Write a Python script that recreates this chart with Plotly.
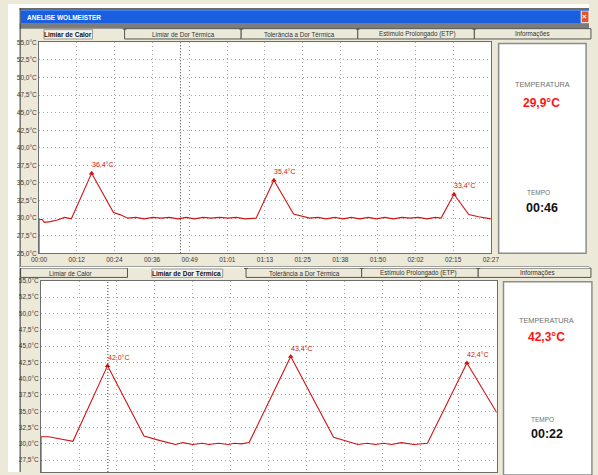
import plotly.graph_objects as go

W, H = 598, 475

# ---------------- data ----------------
tab_names = ["Limiar de Calor", "Limiar de Dor Térmica", "Tolerância a Dor Térmica",
             "Estímulo Prolongado (ETP)", "Informações"]
window_title = "ANELISE WOLMEISTER"

y_tick_values = [25.0, 27.5, 30.0, 32.5, 35.0, 37.5, 40.0, 42.5, 45.0, 47.5, 50.0, 52.5, 55.0]
y_tick_labels = ["25,0°C", "27,5°C", "30,0°C", "32,5°C", "35,0°C", "37,5°C", "40,0°C",
                 "42,5°C", "45,0°C", "47,5°C", "50,0°C", "52,5°C", "55,0°C"]

x_tick_labels_1 = ["00:00", "00:12", "00:24", "00:36", "00:49", "01:01", "01:13",
                   "01:25", "01:38", "01:50", "02:02", "02:15", "02:27"]
x_tick_values_1 = [0, 12.25, 24.5, 36.75, 49, 61.25, 73.5, 85.75, 98, 110.25, 122.5, 134.75, 147]
x_tick_values_2 = [0, 12.5, 25, 37.5, 50, 62.5, 75, 87.5, 100, 112.5, 125, 137.5, 150]

# chart 1 : Limiar de Calor  (time in s, temperature in °C)
time1 = [0, 0, 1.0, 1.7, 3.6, 5.7, 8.3, 10.5, 17.1, 24.2, 26.3, 28.9, 31.5, 34.2, 37.0,
         39.7, 42.4, 45.2, 47.9, 50.6, 53.3, 56.0, 58.7, 61.5, 64.2, 67.0, 70.6, 76.4,
         82.8, 85.5, 88.0, 90.7, 93.4, 96.2, 98.9, 101.6, 104.3, 107.1, 109.8, 112.5,
         115.3, 118.0, 120.7, 123.4, 126.2, 128.9, 130.8, 135.0, 139.8, 143.0, 146.1, 147.0]
temp1 = [25.0, 29.8, 29.8, 29.4, 29.5, 29.7, 30.1, 29.9, 36.4, 30.8, 30.5, 30.0, 30.1, 29.9, 30.1,
         30.0, 30.1, 29.9, 30.1, 29.9, 30.1, 30.0, 30.1, 30.0, 30.1, 29.9, 30.0, 35.4,
         30.6, 30.3, 30.0, 30.1, 29.9, 30.1, 29.9, 30.1, 29.9, 30.1, 29.9, 30.1,
         29.9, 30.1, 30.0, 30.1, 29.9, 30.1, 30.0, 33.4, 30.5, 30.2, 30.0, 29.9]
peak_time1 = [17.1, 76.4, 135.0]
peak_temp1 = [36.4, 35.4, 33.4]
peak_label1 = ["36,4°C", "35,4°C", "33,4°C"]
cursor_time1 = 46
info_temp1 = "29,9°C"
info_time1 = "00:46"

# chart 2 : Limiar de Dor Térmica
time2 = [0, 0, 2.5, 10.5, 21.9, 33.9, 39.2, 44.3, 46.7, 49.9, 53.1, 55.2, 58.4, 61.6,
         63.7, 65.9, 68.5, 82.2, 96.3, 100.0, 104.3, 107.4, 110.1, 112.8, 115.4, 118.6,
         122.9, 127.2, 140.2, 150.0]
temp2 = [25.0, 31.1, 31.1, 30.4, 42.0, 31.2, 30.5, 29.9, 30.2, 29.9, 30.1, 29.9, 30.1, 29.9,
         30.1, 30.0, 30.2, 43.4, 31.0, 30.5, 29.9, 30.1, 29.9, 30.1, 29.9, 30.2,
         29.9, 30.1, 42.4, 34.8]
peak_time2 = [21.9, 82.2, 140.2]
peak_temp2 = [42.0, 43.4, 42.4]
peak_label2 = ["42,0°C", "43,4°C", "42,4°C"]
cursor_time2 = 22
info_temp2 = "42,3°C"
info_time2 = "00:22"

# ---------------- helpers (pixel -> paper) ----------------
def X(p):
    return p / W

def Y(p):
    return 1 - p / H

BEIGE = "#ECE9D8"
RED = "#D01414"
TICKFONT = dict(family="Liberation Sans Narrow, Liberation Sans, Arial, sans-serif", size=6.5, color="#3A3A3A")
UIFONT = "Liberation Sans, Arial, sans-serif"

shapes = []
annotations = []

def rect(x0, y0, x1, y1, fill=None, line=None, lw=1, layer="below"):
    shapes.append(dict(type="rect", xref="paper", yref="paper",
                       x0=X(x0), x1=X(x1), y0=Y(y1), y1=Y(y0),
                       fillcolor=fill if fill else "rgba(0,0,0,0)",
                       line=dict(color=line if line else "rgba(0,0,0,0)", width=lw if line else 0),
                       layer=layer))

def hline(x0, x1, y, color, lw=1, layer="above"):
    shapes.append(dict(type="line", xref="paper", yref="paper", x0=X(x0), x1=X(x1),
                       y0=Y(y), y1=Y(y), line=dict(color=color, width=lw), layer=layer))

def vline(x, y0, y1, color, lw=1, layer="above"):
    shapes.append(dict(type="line", xref="paper", yref="paper", x0=X(x), x1=X(x),
                       y0=Y(y0), y1=Y(y1), line=dict(color=color, width=lw), layer=layer))

def text(x, y, s, size, color, bold=False, xanchor="center"):
    annotations.append(dict(x=X(x), y=Y(y), xref="paper", yref="paper", text=f"<b>{s}</b>" if bold else s,
                            showarrow=False, xanchor=xanchor, yanchor="middle",
                            font=dict(family=UIFONT, size=size, color=color)))

# window chrome
rect(0, 0, 12, H, fill="#FFFFFF")
rect(0, 0, W, 4, fill="#FFFFFF")
rect(12, 4, W, 6, fill="#6A6A6A")
rect(13, 6, W, 20, fill="#1A5FE0")
hline(13, W, 6.5, "#4C86F0", 1)
rect(590, 7, W, 19, fill="#E2542C", line="#FFFFFF", lw=1)
text(593.5, 13, "×", 8, "#FFFFFF", bold=True)
text(17, 13.5, window_title, 6.5, "#FFFFFF", bold=True, xanchor="left")
rect(12, 20, W, 25, fill="#7C7C7C")
vline(12.5, 4, H, "#3A3A3A", 1)
hline(12, W, 266.5, "#9A9A9A", 1)
hline(12, W, 267.5, "#FFFFFF", 1)

# tab strips
def tab_strip(y0, y1, edges, centers, selected, sel_box):
    for i in range(len(tab_names)):
        if i == selected:
            continue
        rect(edges[i], y0, edges[i + 1], y1, fill=BEIGE, line="#555555", lw=1)
        if i > 0:
            hline(edges[i] - 2, edges[i] + 2, y0 + 0.5, "#555555", 1)
    rect(sel_box[0], y0 + 1, sel_box[1], y1, fill="#F3F2EC", line="#9A9A9A", lw=1)
    for i, name in enumerate(tab_names):
        text(centers[i], (y0 + y1) / 2 + 0.5, name, 6.5 if i == selected else 6.3,
             "#111111" if i == selected else "#333333", bold=(i == selected))

tab_strip(25, 35.5, [13, 120, 240, 360, 480, W + 2], [62, 181, 300, 421, 540], 0, (37, 87))
tab_strip(268, 277.5, [13, 123, 245, 364, 484, W + 2], [64, 184, 305, 423, 545], 1, (148, 221))

# info panels
rect(505, 40, 595, 253, fill="#FFFFFF", line="#8C8C8C", lw=1.5)
text(550, 82, "TEMPERATURA", 7.3, "#707070")
text(549.5, 100.5, f"<b>{info_temp1}</b>", 12, "#FF1414")
text(546, 191, "TEMPO", 6.5, "#707070")
text(550, 207.5, f"<b>{info_time1}</b>", 12.5, "#111111")

rect(510, 282, W + 3, H + 3, fill="#FFFFFF", line="#8C8C8C", lw=1.5)
text(554, 321, "TEMPERATURA", 7.3, "#707070")
text(554, 337.5, f"<b>{info_temp2}</b>", 12, "#FF1414")
text(550, 422, "TEMPO", 6.5, "#707070")
text(555, 436.5, f"<b>{info_time2}</b>", 12.5, "#111111")

# ---------------- traces ----------------
fig = go.Figure()
fig.add_trace(go.Scatter(x=time1, y=temp1, mode="lines", line=dict(color=RED, width=1.1),
                         xaxis="x", yaxis="y", hoverinfo="skip"))
fig.add_trace(go.Scatter(x=peak_time1, y=peak_temp1, mode="markers",
                         marker=dict(symbol="triangle-up", size=5, color=RED),
                         xaxis="x", yaxis="y", hoverinfo="skip"))
fig.add_trace(go.Scatter(x=time2, y=temp2, mode="lines", line=dict(color=RED, width=1.1),
                         xaxis="x2", yaxis="y2", hoverinfo="skip"))
fig.add_trace(go.Scatter(x=peak_time2, y=peak_temp2, mode="markers",
                         marker=dict(symbol="triangle-up", size=5, color=RED),
                         xaxis="x2", yaxis="y2", hoverinfo="skip"))

for t, v, s in zip(peak_time1, peak_temp1, peak_label1):
    annotations.append(dict(x=t, y=v, xref="x", yref="y", text=s, showarrow=False,
                            xanchor="left", yanchor="bottom", xshift=-2, yshift=3,
                            font=dict(family=UIFONT, size=7, color=RED)))
for t, v, s in zip(peak_time2, peak_temp2, peak_label2):
    annotations.append(dict(x=t, y=v, xref="x2", yref="y2", text=s, showarrow=False,
                            xanchor="left", yanchor="bottom", xshift=-2, yshift=3,
                            font=dict(family=UIFONT, size=7, color=RED)))

# cursors
shapes.append(dict(type="line", xref="x", yref="y domain", x0=cursor_time1, x1=cursor_time1,
                   y0=0, y1=1, line=dict(color="#303030", width=1, dash="1px,2px"), layer="above"))
shapes.append(dict(type="line", xref="x2", yref="y2 domain", x0=cursor_time2, x1=cursor_time2,
                   y0=0, y1=1, line=dict(color="#303030", width=1, dash="1px,2px"), layer="above"))

axis_common = dict(showgrid=True, gridcolor="#A8A8A8", griddash="1px,3px", gridwidth=1,
                   showline=True, mirror=True, linecolor="#6E6E6E", linewidth=1,
                   zeroline=False, ticks="", tickfont=TICKFONT, fixedrange=True)

fig.update_layout(
    width=W, height=H,
    margin=dict(l=0, r=0, t=0, b=0),
    paper_bgcolor=BEIGE, plot_bgcolor="#FFFFFF",
    showlegend=False,
    xaxis=dict(domain=[X(32), X(497)], range=[0, 147], tickmode="array",
               tickvals=x_tick_values_1, ticktext=x_tick_labels_1, anchor="y", **axis_common),
    yaxis=dict(domain=[Y(253), Y(39)], range=[25, 55], tickmode="array",
               tickvals=y_tick_values, ticktext=y_tick_labels, anchor="x", **axis_common),
    xaxis2=dict(domain=[X(34), X(503)], range=[0, 150], tickmode="array",
                tickvals=x_tick_values_2, showticklabels=False, anchor="y2", **axis_common),
    yaxis2=dict(domain=[0, Y(281)], range=[25.69, 55], tickmode="array",
                tickvals=y_tick_values, ticktext=y_tick_labels, anchor="x2", **axis_common),
    shapes=shapes,
    annotations=annotations,
)

fig.write_html("out.html", config=dict(displayModeBar=False),
               post_script=("document.body.style.margin='0';document.body.style.padding='0';"
                            "document.body.style.overflow='hidden';"
                            "document.documentElement.style.overflow='hidden';"))
